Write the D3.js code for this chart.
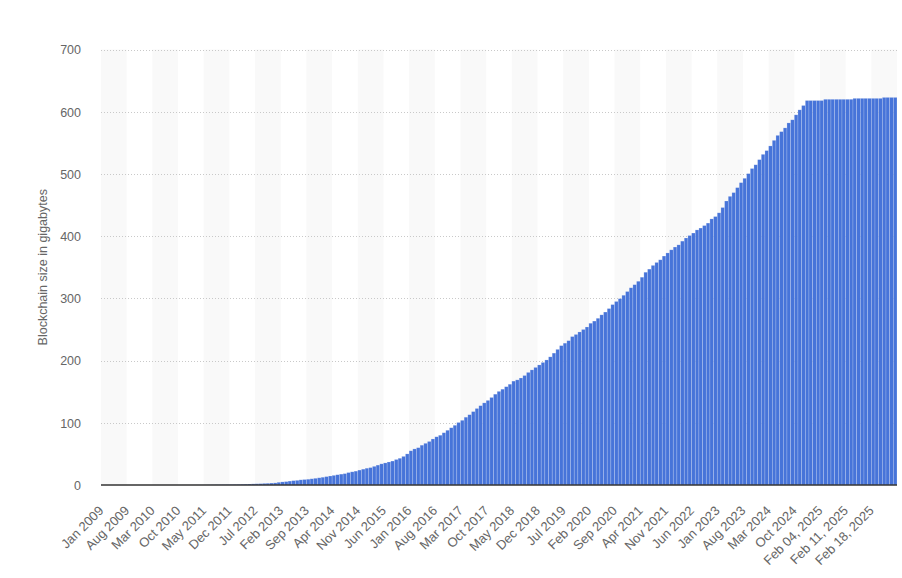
<!DOCTYPE html>
<html><head><meta charset="utf-8">
<script src="https://cdn.jsdelivr.net/npm/d3@7"></script>
<style>
body{margin:0;background:#fff;}
svg text{font-family:"Liberation Sans",Arial,Helvetica,sans-serif;}
</style>
</head><body>
<svg id="chart" width="902" height="578"></svg>
<script>
// ---- DATA ----
const monthNames = ["Jan","Feb","Mar","Apr","May","Jun","Jul","Aug","Sep","Oct","Nov","Dec"];
const monthlyYears = [2009,2010,2011,2012,2013,2014,2015,2016,2017,2018,2019,2020,2021,2022,2023,2024];
const extraMonthly = ["Jan 2025"];
const dailyLabels = ["Feb 01, 2025","Feb 02, 2025","Feb 03, 2025","Feb 04, 2025","Feb 05, 2025","Feb 06, 2025",
  "Feb 07, 2025","Feb 08, 2025","Feb 09, 2025","Feb 10, 2025","Feb 11, 2025","Feb 12, 2025","Feb 13, 2025",
  "Feb 14, 2025","Feb 15, 2025","Feb 16, 2025","Feb 17, 2025","Feb 18, 2025","Feb 19, 2025","Feb 20, 2025",
  "Feb 21, 2025","Feb 22, 2025","Feb 23, 2025","Feb 24, 2025"];

const sizeGB = [
  // 2009
  0,0,0,0,0,0,0,0,0,0,0,0,
  // 2010
  0.01,0.01,0.01,0.01,0.01,0.02,0.02,0.02,0.03,0.03,0.04,0.04,
  // 2011
  0.05,0.07,0.1,0.13,0.17,0.25,0.35,0.45,0.55,0.62,0.7,0.8,
  // 2012
  0.9,1.0,1.2,1.4,1.6,1.8,2.0,2.2,2.6,2.8,3.1,3.4,
  // 2013
  4.4,5.0,5.5,6.3,7.0,7.5,8.3,8.8,9.3,10.0,10.8,11.6,
  // 2014
  12.5,13.5,14.5,15.5,16.5,17.5,18.3,20.0,21.2,22.3,24.0,25.5,
  // 2015
  27.0,28.0,30.0,32.0,34.0,35.5,37.0,38.5,41.0,43.0,46.0,50.0,
  // 2016
  55,58,60,64,67,70,74,77.5,80,84,88,92,
  // 2017
  96,100.5,104,109,113,118,123,127.5,132,136,140.7,146,
  // 2018
  150.5,154,158,162,167,169,172,176,181,185,189,193,
  // 2019
  197,201,206,212,218,224,228,232,238.6,242,246,250,
  // 2020
  254,260,263.5,268,273.5,278,283.6,290,295,299.5,305,311,
  // 2021
  317,322,327.5,334,342,347,353,357.7,362,368,373,378,
  // 2022
  382.5,386,392,397,401,405,410,413,417,421,427.7,431.5,
  // 2023
  437.5,446,456.5,464,470,478,486,493,500.5,508.7,514.7,523,
  // 2024
  531.5,537.5,545,554,562,568,574,582,587,595,603,610,
  // Jan 2025
  618,
  // Feb 01 - Feb 24, 2025
  618,618,618,618,
  620,620,620,620,620,620,620,620,
  621.5,621.5,621.5,621.5,621.5,621.5,621.5,621.5,
  623,623,623,623
];

const yTicks = [0,100,200,300,400,500,600,700];
const xTickLabels = ["Jan 2009","Aug 2009","Mar 2010","Oct 2010","May 2011","Dec 2011","Jul 2012","Feb 2013",
  "Sep 2013","Apr 2014","Nov 2014","Jun 2015","Jan 2016","Aug 2016","Mar 2017","Oct 2017","May 2018",
  "Dec 2018","Jul 2019","Feb 2020","Sep 2020","Apr 2021","Nov 2021","Jun 2022","Jan 2023","Aug 2023",
  "Mar 2024","Oct 2024","Feb 04, 2025","Feb 11, 2025","Feb 18, 2025"];
const yAxisTitle = "Blockchain size in gigabytes";

// categories
const categories = [];
monthlyYears.forEach(yr => monthNames.forEach(m => categories.push(m + " " + yr)));
extraMonthly.forEach(c => categories.push(c));
dailyLabels.forEach(c => categories.push(c));
const data = categories.map((c, i) => ({cat: c, v: sizeGB[i]}));

// ---- LAYOUT ----
const svg = d3.select("#chart");
const plotL = 101, plotR = 897, plotT = 49.5, plotB = 485;

const x = d3.scaleBand().domain(categories).range([plotL, plotR]).padding(0);
const y = d3.scaleLinear().domain([0, 700]).range([plotB, plotT]);
const bw = x.bandwidth();

// alternating background stripes (each 7 categories wide)
const stripeStarts = [];
for (let g = 0; g * 7 < categories.length; g++) if (g % 2 === 0) stripeStarts.push(g * 7);
svg.append("g").selectAll("rect").data(stripeStarts).join("rect")
  .attr("x", d => x(categories[d]))
  .attr("y", plotT)
  .attr("width", d => Math.min(7, categories.length - d) * bw)
  .attr("height", plotB - plotT)
  .attr("fill", "#f9f9f9");

// gridlines
svg.append("g").selectAll("line").data(yTicks.filter(t => t > 0)).join("line")
  .attr("x1", plotL).attr("x2", plotR)
  .attr("y1", d => Math.round(y(d)) + 0.5).attr("y2", d => Math.round(y(d)) + 0.5)
  .attr("stroke", "#c9c9c9").attr("stroke-width", 1).attr("stroke-dasharray", "1,2");

// bars
svg.append("g").selectAll("rect").data(data).join("rect")
  .attr("x", d => x(d.cat))
  .attr("y", d => y(d.v))
  .attr("width", bw)
  .attr("height", d => plotB - y(d.v))
  .attr("fill", "#4774d9")
  .attr("stroke", "rgba(255,255,255,0.32)")
  .attr("stroke-width", 0.6);

// y axis
const yAxis = svg.append("g").attr("transform", `translate(${plotL - 20},0)`)
  .call(d3.axisLeft(y).tickValues(yTicks).tickSize(0).tickPadding(0));
yAxis.select(".domain").remove();
yAxis.selectAll("text").attr("fill", "#666").style("font-size", "12.5px").attr("dy", "0.35em");

// x axis
const xAxis = svg.append("g").attr("transform", `translate(0,${plotB})`)
  .call(d3.axisBottom(x).tickValues(xTickLabels).tickSize(0).tickPadding(0));
xAxis.select(".domain").remove();
xAxis.selectAll("text")
  .attr("fill", "#666").style("font-size", "13px")
  .attr("text-anchor", "end")
  .attr("dy", null)
  .attr("y", null)
  .attr("transform", "translate(1.5,26.5) rotate(-45)");

// baseline
svg.append("line").attr("x1", plotL).attr("x2", plotR)
  .attr("y1", plotB).attr("y2", plotB)
  .attr("stroke", "#333").attr("stroke-width", 1.6);

// y axis title
svg.append("text")
  .attr("transform", `translate(47,${(plotT + plotB) / 2}) rotate(-90)`)
  .attr("text-anchor", "middle")
  .attr("fill", "#666").style("font-size", "12.5px")
  .text(yAxisTitle);
</script>
</body></html>
